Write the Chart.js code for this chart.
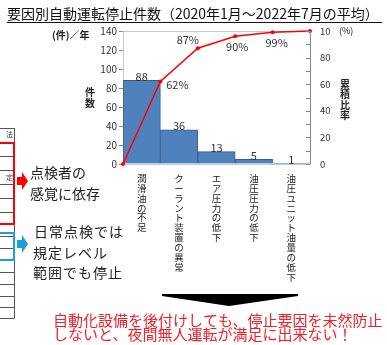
<!DOCTYPE html>
<html>
<head>
<meta charset="utf-8">
<script src="https://cdn.jsdelivr.net/npm/chart.js@4"></script>
<style>
  html, body { margin: 0; padding: 0; background: #fff; }
  canvas { display: block; }
</style>
</head>
<body>
<canvas id="chart" width="387" height="345"></canvas>
<script>
// 要因別の停止件数（件／年）
const categories = ['潤滑油の不足', 'クーラント装置の異常', 'エア圧力の低下', '油圧圧力の低下', '油圧ユニット油量の低下'];
const counts = [88, 36, 13, 5, 1];
// 累積比率（%）: 0 から始めて各棒の右端
const cumulative = [0, 62, 87, 96, 99, 100];
const cumulativeLabels = ['', '62%', '87%', '90%', '99%', ''];
const countTicks = [0, 20, 40, 60, 80, 100, 120, 140];
const ratioTicks = [0, 10, 20, 30, 40, 50, 60, 70, 80, 90, 100];

const JP = "'Noto Sans CJK JP', 'Noto Sans', sans-serif";

// 縦書きテキスト
function drawVertical(ctx, text, x, y, step) {
  [...text].forEach((ch, i) => ctx.fillText(ch, x, y + i * step));
}

const slidePlugin = {
  id: 'slide',
  beforeDraw(chart) {
    const ctx = chart.ctx;
    ctx.save();
    ctx.fillStyle = '#fff';
    ctx.fillRect(0, 0, chart.width, chart.height);
    ctx.restore();
  },
  beforeDatasetsDraw(chart) {
    const { ctx, chartArea: a } = chart;
    ctx.save();
    ctx.strokeStyle = '#c8c8c8';
    ctx.lineWidth = 1;
    ctx.strokeRect(a.left + 0.5, a.top + 0.5, a.right - a.left, a.bottom - a.top);
    ctx.restore();
  },
  afterDraw(chart) {
    const { ctx, chartArea: a } = chart;
    ctx.save();

    // 右軸の目盛（内側）
    const y2 = chart.scales.y2;
    ctx.strokeStyle = '#888';
    ctx.lineWidth = 1;
    ratioTicks.forEach(v => {
      const py = Math.round(y2.getPixelForValue(v)) + 0.5;
      ctx.beginPath();
      ctx.moveTo(a.right - 4, py);
      ctx.lineTo(a.right, py);
      ctx.stroke();
    });
    ctx.beginPath();
    ctx.moveTo(a.right + 0.5, a.top);
    ctx.lineTo(a.right + 0.5, a.bottom);
    ctx.stroke();

    // 棒の値
    const bars = chart.getDatasetMeta(0).data;
    ctx.fillStyle = '#333';
    ctx.font = '11px ' + JP;
    ctx.textAlign = 'center';
    ctx.textBaseline = 'bottom';
    bars.forEach((bar, i) => ctx.fillText(String(counts[i]), bar.x, bar.y + 2));

    // 累積比率ラベル
    const pts = chart.getDatasetMeta(1).data;
    const offsets = [null, [17, 3], [-10, -8], [2, 10], [4, 10], null];
    ctx.textBaseline = 'middle';
    pts.forEach((p, i) => {
      if (!cumulativeLabels[i]) return;
      ctx.fillText(cumulativeLabels[i], p.x + offsets[i][0], p.y + offsets[i][1]);
    });

    // 軸タイトル
    ctx.fillStyle = '#222';
    ctx.font = 'bold 10px ' + JP;
    ctx.textAlign = 'left';
    ctx.fillText('(件)／年', 52, 35);
    ctx.textAlign = 'center';
    drawVertical(ctx, '件数', 90, 92, 11);
    ctx.font = '9px ' + JP;
    ctx.textAlign = 'left';
    ctx.fillText('(%)', 339, 31);
    ctx.font = 'bold 10px ' + JP;
    ctx.textAlign = 'center';
    drawVertical(ctx, '累積比率', 345, 84, 10.5);

    // タイトル
    ctx.fillStyle = '#111';
    ctx.font = '14px ' + JP;
    ctx.textAlign = 'left';
    ctx.fillText('要因別自動運転停止件数（2020年1月～2022年7月の平均）', 7, 14);
    ctx.strokeStyle = '#111';
    ctx.beginPath();
    ctx.moveTo(7, 22.5);
    ctx.lineTo(382, 22.5);
    ctx.stroke();

    // 左側の表（切れている）
    ctx.strokeStyle = '#555';
    ctx.beginPath();
    ctx.moveTo(14.5, 128);
    ctx.lineTo(14.5, 318);
    [128, 143, 156, 170, 184, 198, 212, 224, 236, 248, 260, 272, 284, 296, 307, 318].forEach(ry => {
      ctx.moveTo(0, ry + 0.5);
      ctx.lineTo(14.5, ry + 0.5);
    });
    ctx.stroke();
    ctx.fillStyle = '#333';
    ctx.font = '7px ' + JP;
    ctx.textAlign = 'right';
    ctx.fillText('法', 13, 134);
    ctx.fillText('定', 13, 177);

    ctx.lineWidth = 2;
    ctx.strokeStyle = '#ff0000';
    ctx.strokeRect(-2, 143, 16, 81);
    ctx.strokeStyle = '#1a9fdc';
    ctx.strokeRect(-2, 233, 16, 27);

    // 矢印
    function arrow(x, y, color) {
      ctx.fillStyle = color;
      ctx.beginPath();
      ctx.moveTo(x, y - 4);
      ctx.lineTo(x + 5, y - 4);
      ctx.lineTo(x + 5, y - 9);
      ctx.lineTo(x + 11, y);
      ctx.lineTo(x + 5, y + 9);
      ctx.lineTo(x + 5, y + 4);
      ctx.lineTo(x, y + 4);
      ctx.closePath();
      ctx.fill();
    }
    arrow(17, 181, '#ff0000');
    arrow(17, 244, '#1a9fdc');

    // 説明文
    ctx.fillStyle = '#222';
    ctx.font = '14px ' + JP;
    ctx.textAlign = 'left';
    ctx.textBaseline = 'middle';
    ctx.fillText('点検者の', 30, 173);
    ctx.fillText('感覚に依存', 30, 194);
    ctx.letterSpacing = '1px';
    ctx.fillText('日常点検では', 34, 232);
    ctx.fillText('規定レベル', 33, 253);
    ctx.fillText('範囲でも停止', 33, 273);
    ctx.letterSpacing = '0px';

    // 下向きの矢印
    ctx.fillStyle = '#000';
    ctx.beginPath();
    ctx.moveTo(162, 294);
    ctx.lineTo(298, 294);
    ctx.lineTo(298, 296);
    ctx.lineTo(229, 306);
    ctx.lineTo(162, 296);
    ctx.closePath();
    ctx.fill();

    // 結論
    ctx.fillStyle = '#f0202a';
    ctx.font = '15px ' + JP;
    ctx.fillText('自動化設備を後付けしても、停止要因を未然防止', 53, 320);
    ctx.fillText('しないと、夜間無人運転が満足に出来ない！', 53, 334);

    ctx.restore();
  }
};

new Chart(document.getElementById('chart'), {
  type: 'bar',
  data: {
    labels: categories.map(c => [...c]),
    datasets: [
      {
        type: 'bar',
        data: counts,
        backgroundColor: '#4f81bd',
        borderColor: '#385d8a',
        borderWidth: 1,
        barPercentage: 1,
        categoryPercentage: 1,
        grouped: false,
        xAxisID: 'x',
        yAxisID: 'y',
        order: 2
      },
      {
        type: 'line',
        data: cumulative,
        borderColor: '#ff0000',
        borderWidth: 1.5,
        pointRadius: 2,
        pointBackgroundColor: '#ff0000',
        pointBorderWidth: 0,
        tension: 0,
        clip: false,
        xAxisID: 'x2',
        yAxisID: 'y2',
        order: 1
      }
    ]
  },
  options: {
    responsive: false,
    animation: false,
    devicePixelRatio: 1,
    layout: { padding: { left: 95, right: 57, top: 31, bottom: 0 } },
    plugins: {
      legend: { display: false },
      tooltip: { enabled: false }
    },
    scales: {
      x: {
        type: 'category',
        offset: true,
        grid: { display: false, drawTicks: false },
        border: { display: false },
        ticks: {
          autoSkip: false,
          maxRotation: 0,
          padding: 9,
          color: '#222',
          font: { family: JP, size: 9.5, lineHeight: 1.05 }
        },
        afterFit: s => { s.height = 181; }
      },
      x2: {
        type: 'category',
        labels: cumulative.map((v, i) => String(i)),
        offset: false,
        display: false
      },
      y: {
        position: 'left',
        min: 0,
        max: 140,
        afterBuildTicks: s => { s.ticks = countTicks.map(v => ({ value: v })); },
        grid: { drawOnChartArea: false, tickLength: 4, color: '#888' },
        border: { color: '#888' },
        ticks: { padding: 2, color: '#333', font: { family: JP, size: 10 } },
        afterFit: s => { s.width = 28; }
      },
      y2: {
        position: 'right',
        min: 0,
        max: 100,
        afterBuildTicks: s => { s.ticks = ratioTicks.map(v => ({ value: v })); },
        grid: { drawOnChartArea: false, drawTicks: false },
        border: { display: false },
        ticks: { padding: 10, color: '#333', font: { family: JP, size: 9.5 } },
        afterFit: s => { s.width = 20; }
      }
    }
  },
  plugins: [slidePlugin]
});
</script>
</body>
</html>
